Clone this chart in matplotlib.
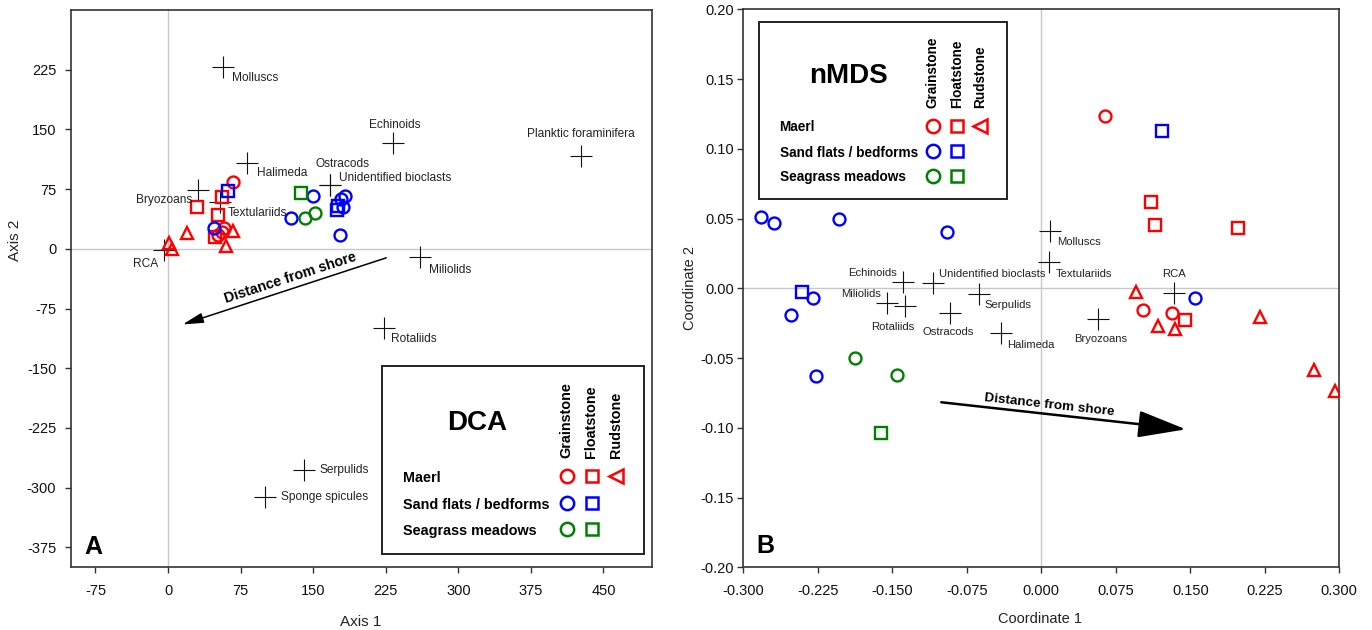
import matplotlib
matplotlib.use('Agg')
import matplotlib.pyplot as plt
from matplotlib.patches import Rectangle

plt.rcParams['font.family'] = ['Liberation Sans', 'DejaVu Sans']
plt.rcParams['axes.unicode_minus'] = False

# ---------------- Panel A: DCA ----------------
dca_taxa = ['Molluscs', 'Echinoids', 'Planktic foraminifera', 'Halimeda', 'Ostracods',
            'Unidentified bioclasts', 'Bryozoans', 'Textulariids', 'RCA', 'Miliolids',
            'Rotaliids', 'Serpulids', 'Sponge spicules']
dca_taxa_x = [57, 233, 427, 82, 167, 167, 31, 53.5, -4, 260, 223, 141, 100]
dca_taxa_y = [229, 133, 117, 108, 80, 80, 74, 59, -1, -10, -100, -278, -312]

dca_maerl_grain_x = [67, 58, 52, 56]
dca_maerl_grain_y = [84.5, 26, 17, 21]
dca_maerl_float_x = [30, 55.5, 51.5, 48.5]
dca_maerl_float_y = [52, 65, 43, 14.5]
dca_maerl_rud_x = [20, 0.5, 4, 67, 60]
dca_maerl_rud_y = [19.5, 7, 0, 22, 3]
dca_sand_grain_x = [47, 127, 150, 183, 178.5, 181, 178]
dca_sand_grain_y = [26, 38.5, 66, 67, 63, 52, 17]
dca_sand_float_x = [61.5, 174.5, 176]
dca_sand_float_y = [73, 49, 54]
dca_sea_grain_x = [141.5, 152]
dca_sea_grain_y = [39, 44.5]
dca_sea_float_x = [137]
dca_sea_float_y = [70]

dca_xticks = [-75, 0, 75, 150, 225, 300, 375, 450]
dca_yticks = [-375, -300, -225, -150, -75, 0, 75, 150, 225]

# ---------------- Panel B: nMDS ----------------
nmds_taxa = ['Molluscs', 'Textulariids', 'Echinoids', 'Unidentified bioclasts', 'Serpulids',
             'Miliolids', 'Rotaliids', 'Ostracods', 'Halimeda', 'Bryozoans', 'RCA']
nmds_taxa_x = [0.0084, 0.0075, -0.139, -0.1094, -0.0623, -0.1552, -0.1369, -0.0919, -0.041, 0.0572, 0.1334]
nmds_taxa_y = [0.041, 0.0186, 0.0043, 0.0036, -0.0043, -0.0108, -0.0127, -0.0175, -0.0323, -0.022, -0.0036]

nmds_maerl_grain_x = [0.0637, 0.1027, 0.1319]
nmds_maerl_grain_y = [0.1237, -0.0156, -0.0179]
nmds_maerl_float_x = [0.1107, 0.1142, 0.198, 0.1447]
nmds_maerl_float_y = [0.0622, 0.0453, 0.0433, -0.0227]
nmds_maerl_rud_x = [0.095, 0.1175, 0.135, 0.2206, 0.2741, 0.2959]
nmds_maerl_rud_y = [-0.0024, -0.0268, -0.0294, -0.0203, -0.0586, -0.0734]
nmds_sand_grain_x = [-0.2824, -0.2693, -0.2039, -0.095, -0.23, -0.2523, -0.227, 0.1545]
nmds_sand_grain_y = [0.0513, 0.0466, 0.0497, 0.0406, -0.0072, -0.019, -0.0626, -0.0067]
nmds_sand_float_x = [0.1211, -0.241]
nmds_sand_float_y = [0.1125, -0.0024]
nmds_sea_grain_x = [-0.1878, -0.1451]
nmds_sea_grain_y = [-0.0497, -0.0622]
nmds_sea_float_x = [-0.1616]
nmds_sea_float_y = [-0.104]

nmds_xticks = [-0.300, -0.225, -0.150, -0.075, 0.000, 0.075, 0.150, 0.225, 0.300]
nmds_yticks = [-0.20, -0.15, -0.10, -0.05, 0.00, 0.05, 0.10, 0.15, 0.20]

environments = ['Maerl', 'Sand flats / bedforms', 'Seagrass meadows']
facies = ['Grainstone', 'Floatstone', 'Rudstone']

# ---------------- styles ----------------
RED, BLUE, GREEN = '#ff0000', '#0000ff', '#008000'
env_colors = {'Maerl': RED, 'Sand flats / bedforms': BLUE, 'Seagrass meadows': GREEN}
fac_markers = {'Grainstone': 'o', 'Floatstone': 's', 'Rudstone': '^'}
marker_size = {'o': 8.6, 's': 8.0, '^': 9.2, '<': 9.2}

W, H = 1372, 630
fig = plt.figure(figsize=(W / 100, H / 100), dpi=100)

boxA = (71.3, 10.0, 651.8, 567.3)
boxB = (743.2, 9.3, 1339.3, 567.3)


def add_ax(box):
    l, t, r, b = box
    return fig.add_axes([l / W, 1 - b / H, (r - l) / W, (b - t) / H])


def frac(box, x, y):
    l, t, r, b = box
    return (x - l) / (r - l), (b - y) / (b - t)


def style_axes(ax, xlim, ylim, xticks, yticks, xfmt, yfmt, ypad):
    ax.set_xlim(*xlim)
    ax.set_ylim(*ylim)
    ax.set_xticks(xticks)
    ax.set_yticks(yticks)
    ax.set_xticklabels([xfmt.format(v) for v in xticks])
    ax.set_yticklabels([yfmt.format(v) for v in yticks])
    for s in ax.spines.values():
        s.set_color('#333333')
        s.set_linewidth(1.2)
    ax.tick_params(direction='out', length=4.3, width=1, color='#333333',
                   labelsize=10.5, top=False, right=False, labelcolor='#111111')
    ax.tick_params(axis='x', pad=7.5)
    ax.tick_params(axis='y', pad=ypad)
    ax.axhline(0, color='#c8c8c8', lw=1, zorder=0)
    ax.axvline(0, color='#c8c8c8', lw=1, zorder=0)


def plot_groups(ax, groups):
    for xs, ys, env, fac in groups:
        m = fac_markers[fac]
        ax.plot(xs, ys, linestyle='none', marker=m, ms=marker_size[m], mfc='none',
                mec=env_colors[env], mew=1.7, zorder=4)


def plot_taxa(ax, names, xs, ys, offsets, fs):
    ax.plot(xs, ys, linestyle='none', marker='+', ms=16.5, mew=0.8, color='#111111', zorder=3)
    for n, x, y in zip(names, xs, ys):
        dx, dy, ha = offsets[n]
        ax.annotate(n, xy=(x, y), xytext=(dx * 0.72, -dy * 0.72), textcoords='offset points',
                    ha=ha, va='center', fontsize=fs, color='#222222', zorder=5)


def draw_legend(ax, box, rect, title, title_xy, col_x, head_bottom, row_base, text_x, fs, rows_sym):
    x0, y0 = frac(box, rect[0], rect[3])
    x1, y1 = frac(box, rect[2], rect[1])
    ax.add_patch(Rectangle((x0, y0), x1 - x0, y1 - y0, transform=ax.transAxes,
                           fc='white', ec='#222222', lw=1.4, zorder=6, clip_on=False))
    tx, ty = frac(box, *title_xy)
    ax.text(tx, ty, title, transform=ax.transAxes, ha='center', va='baseline',
            fontsize=20, fontweight='bold', zorder=7)
    for fac, cx in zip(facies, col_x):
        hx, hy = frac(box, cx, head_bottom)
        ax.text(hx, hy, fac, transform=ax.transAxes, rotation=90, ha='center', va='bottom',
                fontsize=fs, fontweight='bold', zorder=7)
    for env, yb, ys in zip(environments, row_base, rows_sym):
        lx, ly = frac(box, text_x, yb)
        ax.text(lx, ly, env, transform=ax.transAxes, ha='left', va='baseline',
                fontsize=fs, fontweight='bold', zorder=7)
        n = 3 if env == 'Maerl' else 2
        for fac, cx in list(zip(facies, col_x))[:n]:
            m = fac_markers[fac]
            if m == '^':
                m = '<'
            sx, sy = frac(box, cx, ys)
            ax.plot([sx], [sy], transform=ax.transAxes, linestyle='none', marker=m,
                    ms=marker_size[m] + 1.0, mfc='none', mec=env_colors[env], mew=1.8,
                    zorder=7, clip_on=False)


# ================= Panel A =================
axA = add_ax(boxA)
style_axes(axA, (-100, 500), (-400, 300), dca_xticks, dca_yticks, '{:g}', '{:g}', 6.5)

offA = {'Molluscs': (9, 11, 'left'), 'Echinoids': (1.5, -18, 'center'),
        'Planktic foraminifera': (0, -22, 'center'), 'Halimeda': (10, 10, 'left'),
        'Ostracods': (12.6, -21, 'center'), 'Unidentified bioclasts': (9, -7, 'left'),
        'Bryozoans': (-6, 10, 'right'), 'Textulariids': (8, 11, 'left'),
        'RCA': (-6.5, 14, 'right'), 'Miliolids': (9.5, 13, 'left'),
        'Rotaliids': (7, 11, 'left'), 'Serpulids': (15, 0, 'left'),
        'Sponge spicules': (16, 0, 'left')}
plot_taxa(axA, dca_taxa, dca_taxa_x, dca_taxa_y, offA, 8.6)
plot_groups(axA, [
    (dca_maerl_float_x, dca_maerl_float_y, 'Maerl', 'Floatstone'),
    (dca_maerl_rud_x, dca_maerl_rud_y, 'Maerl', 'Rudstone'),
    (dca_maerl_grain_x, dca_maerl_grain_y, 'Maerl', 'Grainstone'),
    (dca_sand_float_x, dca_sand_float_y, 'Sand flats / bedforms', 'Floatstone'),
    (dca_sand_grain_x, dca_sand_grain_y, 'Sand flats / bedforms', 'Grainstone'),
    (dca_sea_float_x, dca_sea_float_y, 'Seagrass meadows', 'Floatstone'),
    (dca_sea_grain_x, dca_sea_grain_y, 'Seagrass meadows', 'Grainstone'),
])

axA.annotate('', xy=(15, -95), xytext=(225.5, -11.3),
             arrowprops=dict(arrowstyle='-|>,head_length=0.9,head_width=0.22', lw=1.1,
                             color='k', shrinkA=0, shrinkB=0, mutation_scale=14))
axA.text(126.3, -36.7, 'Distance from shore', rotation=18, rotation_mode='anchor',
         ha='center', va='center', fontsize=10.3, fontweight='bold')

axA.set_xlabel('Axis 1', fontsize=11, color='#222222')
axA.set_ylabel('Axis 2', fontsize=11, color='#222222')
axA.xaxis.set_label_coords(0.499, -0.0976)
axA.xaxis.label.set_va('center')
axA.yaxis.set_label_coords(-0.097, 0.587)
axA.yaxis.label.set_va('center')

tx, ty = frac(boxA, 93.1, 554)
axA.text(tx, ty, 'A', transform=axA.transAxes, ha='center', va='baseline',
         fontsize=18, fontweight='bold')

draw_legend(axA, boxA, (382.4, 366, 644.3, 554), 'DCA', (476.8, 430),
            [566.7, 591.5, 616.4], 458.3, [482.0, 508.8, 534.8], 403.4, 10.4,
            [476.4, 503.3, 529.3])

# ================= Panel B =================
axB = add_ax(boxB)
style_axes(axB, (-0.3, 0.3), (-0.2, 0.2), nmds_xticks, nmds_yticks, '{:.3f}', '{:.2f}', 2.5)

offB = {'Molluscs': (8, 11, 'left'), 'Textulariids': (7.5, 12, 'left'),
        'Echinoids': (-6.5, -9, 'right'), 'Unidentified bioclasts': (6, -9, 'left'),
        'Serpulids': (5, 11, 'left'), 'Miliolids': (-6.4, -9, 'right'),
        'Rotaliids': (-12, 21, 'center'), 'Ostracods': (-2, 19, 'center'),
        'Halimeda': (6.5, 12, 'left'), 'Bryozoans': (2.6, 20, 'center'),
        'RCA': (0, -19, 'center')}
plot_taxa(axB, nmds_taxa, nmds_taxa_x, nmds_taxa_y, offB, 8.1)
plot_groups(axB, [
    (nmds_maerl_float_x, nmds_maerl_float_y, 'Maerl', 'Floatstone'),
    (nmds_maerl_rud_x, nmds_maerl_rud_y, 'Maerl', 'Rudstone'),
    (nmds_maerl_grain_x, nmds_maerl_grain_y, 'Maerl', 'Grainstone'),
    (nmds_sand_float_x, nmds_sand_float_y, 'Sand flats / bedforms', 'Floatstone'),
    (nmds_sand_grain_x, nmds_sand_grain_y, 'Sand flats / bedforms', 'Grainstone'),
    (nmds_sea_float_x, nmds_sea_float_y, 'Seagrass meadows', 'Floatstone'),
    (nmds_sea_grain_x, nmds_sea_grain_y, 'Seagrass meadows', 'Grainstone'),
])

axB.annotate('', xy=(0.1456, -0.1011), xytext=(-0.1006, -0.0817),
             arrowprops=dict(arrowstyle='-|>,head_length=1.5,head_width=0.42', lw=1.8,
                             color='k', shrinkA=0, shrinkB=0, mutation_scale=20))
axB.text(0.0086, -0.0839, 'Distance from shore', rotation=-6.3, rotation_mode='anchor',
         ha='center', va='center', fontsize=9.7, fontweight='bold')

axB.set_xlabel('Coordinate 1', fontsize=10.5, color='#222222')
axB.set_ylabel('Coordinate 2', fontsize=10.5, color='#222222')
axB.xaxis.set_label_coords(0.498, -0.093)
axB.xaxis.label.set_va('center')
axB.yaxis.set_label_coords(-0.089, 0.5)
axB.yaxis.label.set_va('center')

tx, ty = frac(boxB, 765.2, 553.3)
axB.text(tx, ty, 'B', transform=axB.transAxes, ha='center', va='baseline',
         fontsize=18, fontweight='bold')

draw_legend(axB, boxB, (759.3, 21.7, 1006.6, 199), 'nMDS', (848.7, 83.3),
            [932.5, 957.2, 980.2], 108.3, [131, 156.7, 181], 779.6, 9.8,
            [125.7, 151, 176.3])

fig.savefig('out.png', dpi=100)
